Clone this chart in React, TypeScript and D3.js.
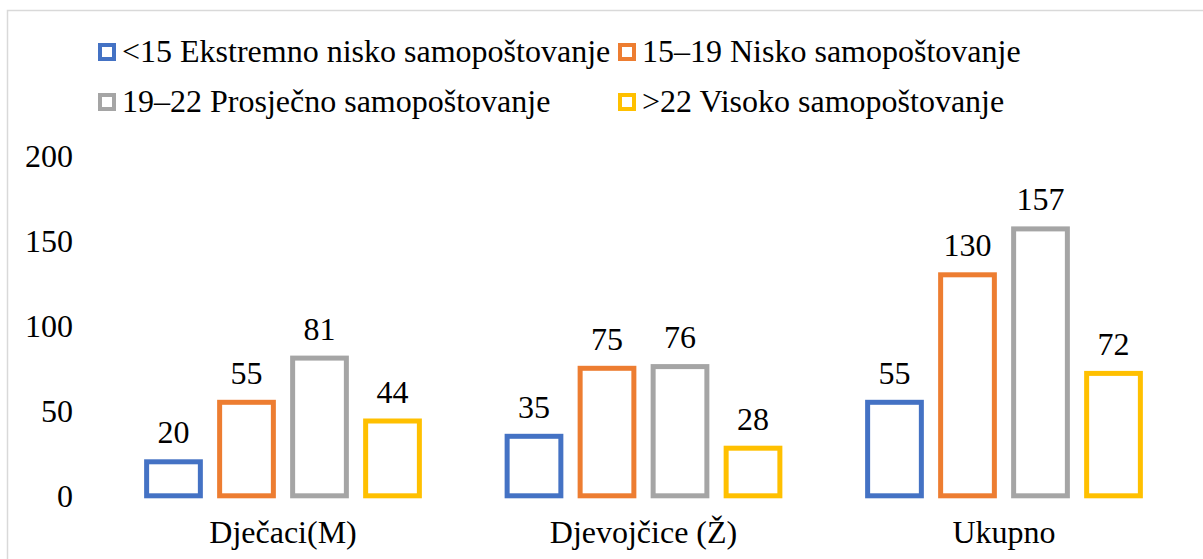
import { useEffect, useRef } from "react";
import * as d3 from "d3";

const categories = ["Dječaci(M)", "Djevojčice (Ž)", "Ukupno"];
const seriesNames = [
    "<15 Ekstremno nisko samopoštovanje",
    "15–19 Nisko samopoštovanje",
    "19–22 Prosječno samopoštovanje",
    ">22 Visoko samopoštovanje",
];
const ekstremnoNisko = [20, 35, 55];
const nisko = [55, 75, 130];
const prosjecno = [81, 76, 157];
const visoko = [44, 28, 72];
const yTicks = [0, 50, 100, 150, 200];
const colors = ["#4472C4", "#ED7D31", "#A5A5A5", "#FFC000"];

export default function App() {
    const ref = useRef<SVGSVGElement>(null);

    useEffect(() => {
        document.body.style.margin = "0";
        const svg = d3.select(ref.current);
        svg.selectAll("*").remove();

        const font = "'Liberation Serif', 'Times New Roman', serif";
        const allSeries = [ekstremnoNisko, nisko, prosjecno, visoko];

        // Chart border (only top and left are visible in the frame)
        svg.append("rect")
            .attr("x", 7.5)
            .attr("y", 10.5)
            .attr("width", 1400)
            .attr("height", 700)
            .attr("fill", "white")
            .attr("stroke", "#d9d9d9")
            .attr("stroke-width", 1.5);

        // Scales
        const x0 = d3.scaleBand<string>()
            .domain(categories)
            .range([102.75, 1184.25])
            .paddingInner(0)
            .paddingOuter(0);

        const x1 = d3.scaleBand<number>()
            .domain([0, 1, 2, 3])
            .range([0, x0.bandwidth()])
            .paddingInner(0.264)
            .paddingOuter(0.601);

        const y = d3.scaleLinear()
            .domain([0, 200])
            .range([495.8, 155.8]);

        // Y tick labels
        svg.append("g")
            .selectAll("text")
            .data(yTicks)
            .join("text")
            .attr("x", 73)
            .attr("y", d => y(d) + 11)
            .attr("text-anchor", "end")
            .attr("font-family", font)
            .attr("font-size", 32)
            .attr("fill", "#000")
            .text(d => d);

        // Bars
        const groups = svg.append("g")
            .selectAll("g")
            .data(categories)
            .join("g")
            .attr("transform", d => `translate(${x0(d)},0)`);

        groups.selectAll("rect")
            .data((_, ci) => allSeries.map((s, si) => ({ si, v: s[ci] })))
            .join("rect")
            .attr("x", d => x1(d.si)!)
            .attr("y", d => y(d.v))
            .attr("width", x1.bandwidth())
            .attr("height", d => y(0) - y(d.v))
            .attr("fill", "white")
            .attr("stroke", d => colors[d.si])
            .attr("stroke-width", 5);

        // Value labels
        groups.selectAll("text")
            .data((_, ci) => allSeries.map((s, si) => ({ si, v: s[ci] })))
            .join("text")
            .attr("x", d => x1(d.si)! + x1.bandwidth() / 2)
            .attr("y", d => y(d.v) - 18.5)
            .attr("text-anchor", "middle")
            .attr("font-family", font)
            .attr("font-size", 32)
            .attr("fill", "#000")
            .text(d => d.v);

        // Category labels
        svg.append("g")
            .selectAll("text")
            .data(categories)
            .join("text")
            .attr("x", d => x0(d)! + x0.bandwidth() / 2)
            .attr("y", 543)
            .attr("text-anchor", "middle")
            .attr("font-family", font)
            .attr("font-size", 32)
            .attr("fill", "#000")
            .text(d => d);

        // Legend, two columns by two rows
        const legendPos = [
            { x: 98, y: 62 },
            { x: 618, y: 62 },
            { x: 98, y: 112 },
            { x: 618, y: 112 },
        ];
        const legend = svg.append("g")
            .selectAll("g")
            .data(seriesNames)
            .join("g")
            .attr("transform", (_, i) => `translate(${legendPos[i].x},${legendPos[i].y})`);

        legend.append("rect")
            .attr("x", 2)
            .attr("y", -17)
            .attr("width", 14)
            .attr("height", 14)
            .attr("fill", "white")
            .attr("stroke", (_, i) => colors[i])
            .attr("stroke-width", 4);

        legend.append("text")
            .attr("x", 24)
            .attr("y", 0)
            .attr("font-family", font)
            .attr("font-size", 32)
            .attr("fill", "#000")
            .text(d => d);
    }, []);

    return <svg ref={ref} width={1203} height={559} style={{ display: "block" }}></svg>;
}
